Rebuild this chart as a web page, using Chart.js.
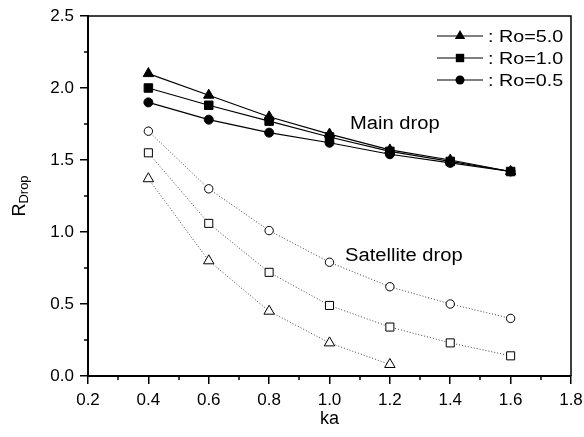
<!DOCTYPE html>
<html>
<head>
<meta charset="utf-8">
<script src="https://cdn.jsdelivr.net/npm/chart.js@4"></script>
<style>
  html, body { margin: 0; padding: 0; background: #fff; }
  #wrap { width: 584px; height: 437px; }
</style>
</head>
<body>
<div id="wrap"><canvas id="myChart" width="584" height="437"></canvas></div>
<script>
// ka values shared by all curves
const ka = [0.4, 0.6, 0.8, 1.0, 1.2, 1.4, 1.6];

// main drop radius
const mainRo50 = [2.10, 1.95, 1.80, 1.68, 1.57, 1.50, 1.42];
const mainRo10 = [2.00, 1.88, 1.77, 1.66, 1.56, 1.49, 1.42];
const mainRo05 = [1.90, 1.78, 1.69, 1.62, 1.54, 1.48, 1.42];

// satellite drop radius (Ro=5.0 stops at ka=1.2)
const satRo50 = [1.37, 0.80, 0.45, 0.23, 0.08];
const satRo10 = [1.55, 1.06, 0.72, 0.49, 0.34, 0.23, 0.14];
const satRo05 = [1.70, 1.30, 1.01, 0.79, 0.62, 0.50, 0.40];

const legendLabels = [': Ro=5.0', ': Ro=1.0', ': Ro=0.5'];
const xTicks = [0.2, 0.4, 0.6, 0.8, 1.0, 1.2, 1.4, 1.6, 1.8];
const yTicks = [0.0, 0.5, 1.0, 1.5, 2.0, 2.5];

const FONT = '"Liberation Sans", Arial, sans-serif';

function pts(ys) {
    return ys.map((y, i) => ({ x: ka[i], y: y }));
}

function mainSet(ys, style, r) {
    return {
        data: pts(ys), pointStyle: style, pointRadius: r,
        borderColor: '#000', borderWidth: 1.2,
        pointBackgroundColor: '#000', pointBorderColor: '#000', pointBorderWidth: 1
    };
}
function satSet(ys, style, r) {
    return {
        data: pts(ys), pointStyle: style, pointRadius: r,
        borderColor: '#444', borderWidth: 1, borderDash: [1, 2],
        pointBackgroundColor: '#fff', pointBorderColor: '#000', pointBorderWidth: 1
    };
}

// marker for the hand-made legend
function marker(ctx, style, x, y) {
    ctx.beginPath();
    if (style === 'triangle') {
        const r = 6;
        ctx.moveTo(x, y - r);
        ctx.lineTo(x + r * 0.866, y + r / 2);
        ctx.lineTo(x - r * 0.866, y + r / 2);
        ctx.closePath();
    } else if (style === 'rect') {
        ctx.rect(x - 4.2, y - 4.2, 8.4, 8.4);
    } else {
        ctx.arc(x, y, 4.5, 0, Math.PI * 2);
    }
    ctx.fill();
}

const decor = {
    id: 'decor',
    afterDraw(chart) {
        const ctx = chart.ctx;
        const a = chart.chartArea;
        const xs = chart.scales.x, ys = chart.scales.y;
        ctx.save();
        ctx.strokeStyle = '#000';
        ctx.fillStyle = '#000';

        // top and right frame
        ctx.lineWidth = 1.5;
        ctx.beginPath();
        ctx.moveTo(a.left, a.top); ctx.lineTo(a.right, a.top); ctx.lineTo(a.right, a.bottom);
        ctx.stroke();

        // minor ticks
        ctx.lineWidth = 1.5;
        ctx.beginPath();
        for (let v = 0.3; v < 1.8; v += 0.2) {
            const px = Math.round(xs.getPixelForValue(v));
            ctx.moveTo(px, a.bottom); ctx.lineTo(px, a.bottom + 4);
        }
        for (let v = 0.25; v < 2.5; v += 0.5) {
            const py = Math.round(ys.getPixelForValue(v));
            ctx.moveTo(a.left, py); ctx.lineTo(a.left - 4, py);
        }
        ctx.stroke();

        // annotations
        ctx.textBaseline = 'alphabetic';
        ctx.textAlign = 'left';
        ctx.font = '18px ' + FONT;
        ctx.save(); ctx.translate(350, 129); ctx.scale(1.12, 1);
        ctx.fillText('Main drop', 0, 0); ctx.restore();
        ctx.save(); ctx.translate(345, 261); ctx.scale(1.12, 1);
        ctx.fillText('Satellite drop', 0, 0); ctx.restore();

        // legend
        const styles = ['triangle', 'rect', 'circle'];
        const rows = [36, 58, 80];
        ctx.lineWidth = 1.2;
        ctx.font = '17px ' + FONT;
        ctx.textBaseline = 'middle';
        styles.forEach((s, i) => {
            const y = rows[i];
            ctx.beginPath(); ctx.moveTo(437, y); ctx.lineTo(483, y); ctx.stroke();
            marker(ctx, s, 460, y);
            ctx.save(); ctx.translate(488, y + 1); ctx.scale(1.16, 1);
            ctx.fillText(legendLabels[i], 0, 0); ctx.restore();
        });

        // axis titles
        ctx.textAlign = 'center';
        ctx.textBaseline = 'alphabetic';
        ctx.font = '18px ' + FONT;
        ctx.fillText('ka', (a.left + a.right) / 2, 424);

        ctx.save();
        ctx.translate(25, 196);
        ctx.rotate(-Math.PI / 2);
        ctx.textAlign = 'left';
        ctx.font = '18px ' + FONT;
        const wR = ctx.measureText('R').width;
        ctx.font = '13px ' + FONT;
        const wD = ctx.measureText('Drop').width;
        const x0 = -(wR + wD) / 2;
        ctx.font = '18px ' + FONT;
        ctx.fillText('R', x0, 0);
        ctx.font = '13px ' + FONT;
        ctx.fillText('Drop', x0 + wR, 3);
        ctx.restore();

        ctx.restore();
    }
};

const ctx = document.getElementById('myChart');
const myChart = new Chart(ctx, {
    type: 'line',
    data: {
        datasets: [
            mainSet(mainRo50, 'triangle', 6),
            mainSet(mainRo10, 'rect', 6),
            mainSet(mainRo05, 'circle', 4.5),
            satSet(satRo50, 'triangle', 6),
            satSet(satRo10, 'rect', 5.7),
            satSet(satRo05, 'circle', 4.2)
        ]
    },
    options: {
        responsive: false,
        animation: false,
        events: [],
        layout: { padding: { top: 16, right: 13, left: 0, bottom: 0 } },
        plugins: { legend: { display: false }, tooltip: { enabled: false } },
        scales: {
            x: {
                type: 'linear', min: 0.2, max: 1.8,
                afterFit(s) { s.height = 61; s.paddingLeft = 0; s.paddingRight = 0; },
                afterBuildTicks(s) { s.ticks = xTicks.map(v => ({ value: v })); },
                border: { display: true, color: '#000', width: 2 },
                grid: { drawOnChartArea: false, tickLength: 8, color: '#000', lineWidth: 1.5 },
                ticks: {
                    color: '#000', padding: 6, maxRotation: 0,
                    font: { family: FONT, size: 17 },
                    callback: v => v.toFixed(1)
                }
            },
            y: {
                min: 0, max: 2.5,
                afterFit(s) { s.width = 88; s.paddingTop = 0; s.paddingBottom = 0; },
                afterBuildTicks(s) { s.ticks = yTicks.map(v => ({ value: v })); },
                border: { display: true, color: '#000', width: 2 },
                grid: { drawOnChartArea: false, tickLength: 8, color: '#000', lineWidth: 1.5 },
                ticks: {
                    color: '#000', padding: 6,
                    font: { family: FONT, size: 17 },
                    callback: v => v.toFixed(1)
                }
            }
        }
    },
    plugins: [decor]
});
</script>
</body>
</html>
